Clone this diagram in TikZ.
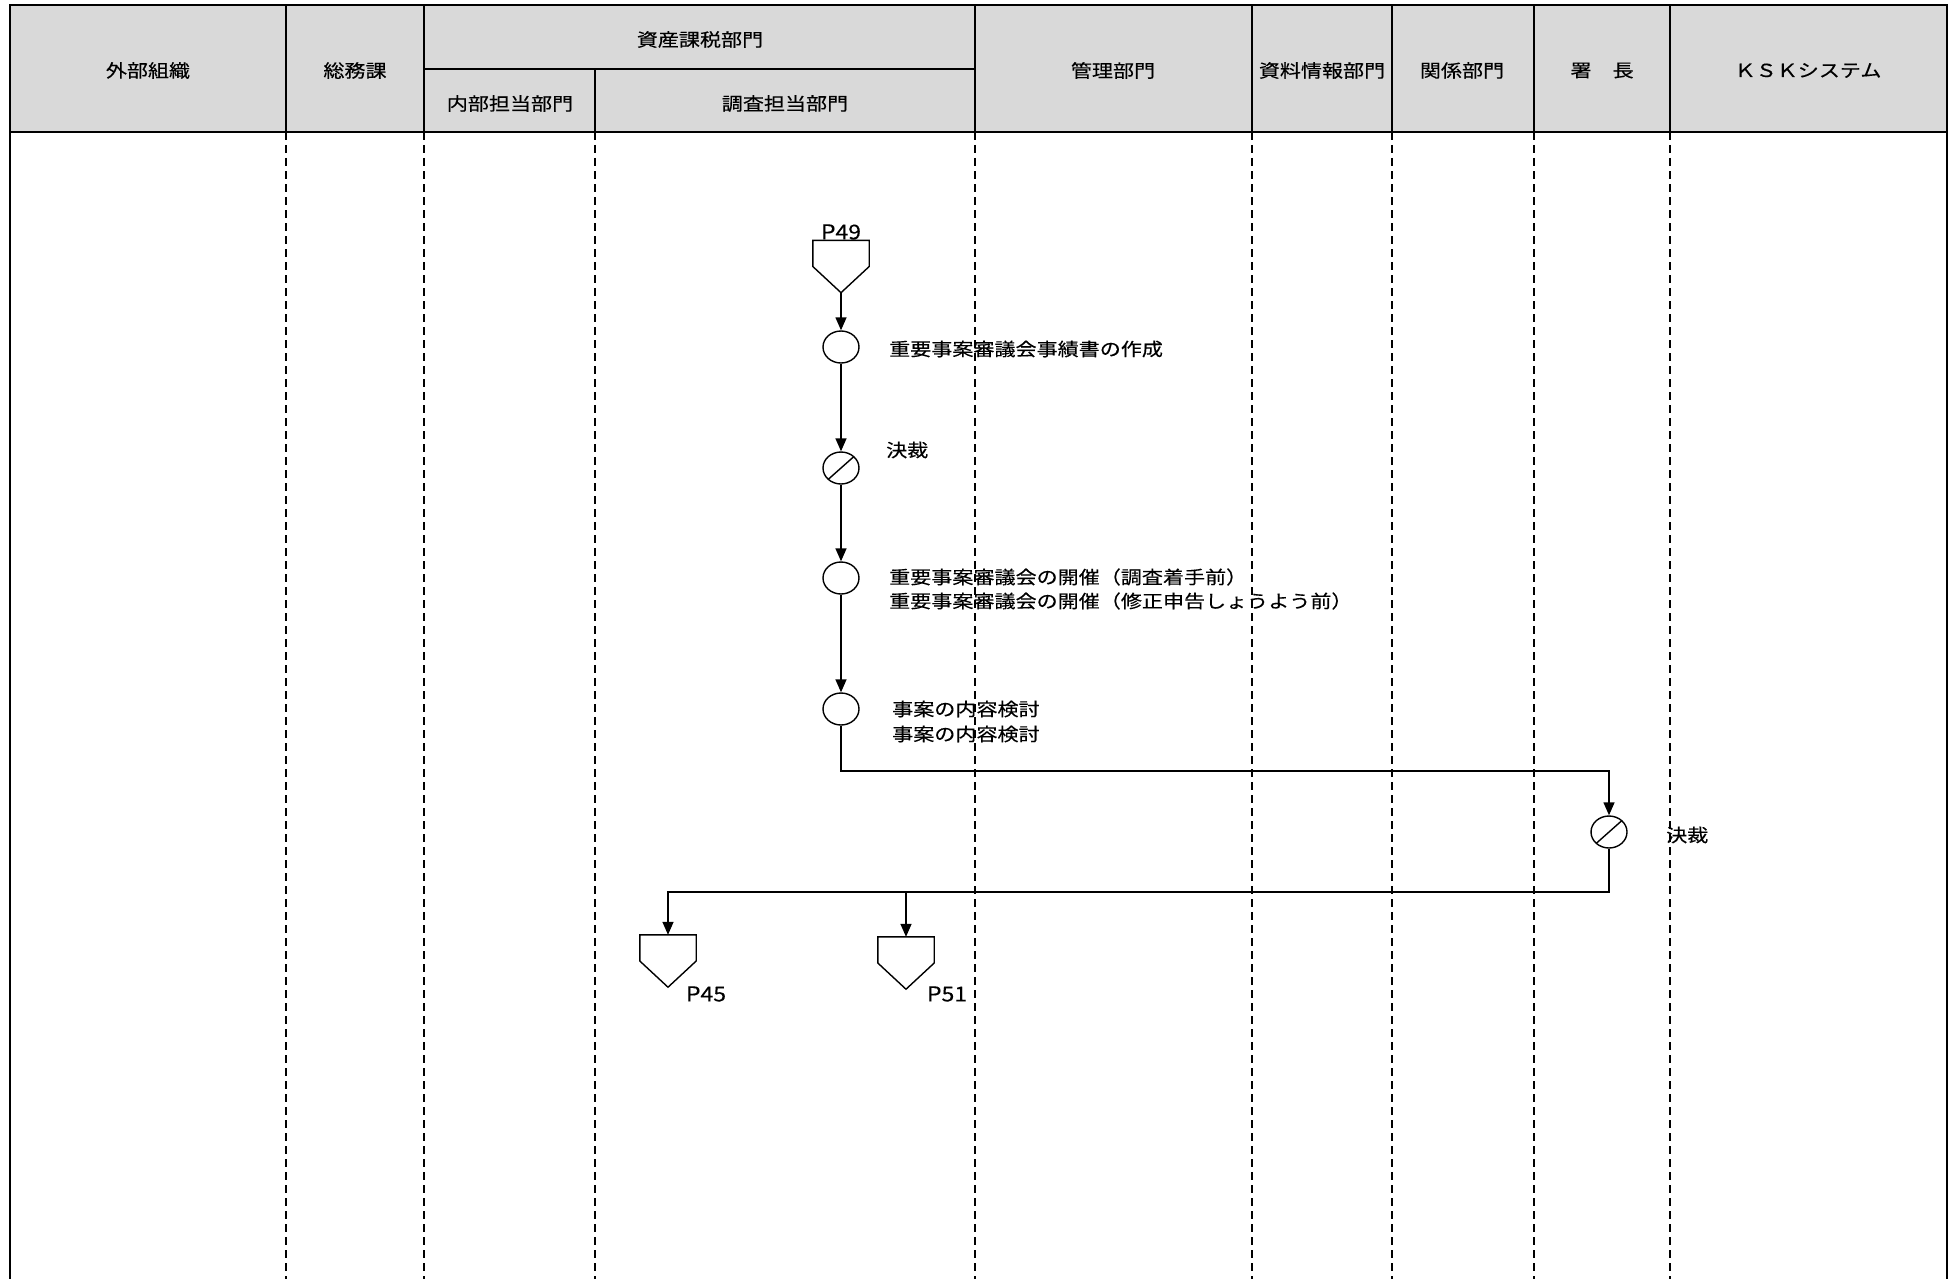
\documentclass[tikz,border=0pt]{standalone}
\usepackage{fontspec}
\usetikzlibrary{arrows.meta,shapes.geometric,calc}
\newfontfamily\jp[FakeStretch=1.17,FakeBold=0.3]{Noto Sans CJK JP}
\newfontfamily\jpl[FakeStretch=1.12,FakeBold=0.2]{Noto Sans CJK JP}
\definecolor{hdr}{HTML}{D9D9D9}
\newcommand\offpageshape[1]{\draw[line width=1.4pt] (#1.north west) -- (#1.north east) -- ($(#1.north east)!0.5!(#1.south east)$) -- (#1.south) -- ($(#1.north west)!0.5!(#1.south west)$) -- cycle;}
\begin{document}
\begin{tikzpicture}[x=1pt,y=-1pt,
  jptext/.style={font=\jp\fontsize{18}{24}\selectfont, inner sep=0pt},
  hdrtext/.style={font=\jp\fontsize{18}{24}\selectfont, inner sep=0pt},
  reftext/.style={font=\jpl\fontsize{20.5}{24}\selectfont, inner sep=0pt},
  lane/.style={line width=1.2pt, dash pattern=on 8pt off 5pt},
  proc/.style={ellipse, draw, fill=white, line width=1.4pt, minimum width=36pt, minimum height=32pt, inner sep=0pt},
  approval/.style={proc, path picture={\draw[line width=1.4pt] (path picture bounding box.south west) -- (path picture bounding box.north east);}},
  offpage/.style={rectangle, minimum width=56pt, minimum height=52pt, inner sep=0pt},
  arr/.style={line width=1.5pt, -{Triangle[length=13pt,width=11pt]}},
  flow/.style={line width=1.5pt}
]
\useasboundingbox (0,0) rectangle (1957,1279);
\fill[white] (0,0) rectangle (1957,1279);
% header
\fill[hdr] (10,5) rectangle (1947,132);
\foreach \x in {286,424,975,1252,1392,1534,1670} \draw[line width=1.6pt] (\x,5) -- (\x,132);
\draw[line width=1.6pt] (424,69) -- (975,69);
\draw[line width=1.6pt] (595,69) -- (595,132);
\draw[line width=2.2pt] (10,5) rectangle (1947,132);
\draw[line width=1.6pt] (10,132) -- (10,1279);
\draw[line width=1.6pt] (1947,132) -- (1947,1279);
\foreach \x in {286,424,595,975,1252,1392,1534,1670} \draw[lane] (\x,132) -- (\x,1279);
\node[hdrtext] (h1) at (148,70.5) {外部組織};
\node[hdrtext] (h2) at (355,70.5) {総務課};
\node[hdrtext] (h3) at (700,39.5) {資産課税部門};
\node[hdrtext] (h4) at (510,103.5) {内部担当部門};
\node[hdrtext] (h5) at (785,103.5) {調査担当部門};
\node[hdrtext] (h6) at (1113,70.5) {管理部門};
\node[hdrtext] (h7) at (1322,70.5) {資料情報部門};
\node[hdrtext] (h8) at (1462,70.5) {関係部門};
\node[hdrtext] (h9) at (1602,70.5) {署　長};
\node[hdrtext] (h10) at (1808,70.5) {ＫＳＫシステム};
% flow
\node[offpage] (p49) at (841,266.5) {};
\offpageshape{p49}
\node[reftext] (l49) at (841,232) {P49};
\node[proc] (c1) at (841,347) {};
\node[jptext, anchor=west] (t1) at (889,349) {重要事案審議会事績書の作成};
\node[approval] (c2) at (841,468) {};
\node[jptext, anchor=west] (t2) at (886,450) {決裁};
\node[proc] (c3) at (841,578) {};
\node[jptext, anchor=west, align=left] (t3) at (889,589) {重要事案審議会の開催（調査着手前）\\重要事案審議会の開催（修正申告しょうよう前）};
\node[proc] (c4) at (841,709) {};
\node[jptext, anchor=west, align=left, font=\jp\fontsize{18}{25}\selectfont] (t4) at (892,721.5) {事案の内容検討\\事案の内容検討};
\node[approval] (c5) at (1609,832) {};
\node[jptext, anchor=west] (t5) at (1666,835) {決裁};
\node[offpage] (p45) at (668,961) {};
\offpageshape{p45}
\node[reftext] (l45) at (706,994) {P45};
\node[offpage] (p51) at (906,963) {};
\offpageshape{p51}
\node[reftext] (l51) at (947,994) {P51};
\coordinate (j1) at (0,771);
\coordinate (j2) at (0,892);
\draw[arr] (p49.south) -- (c1.north);
\draw[arr] (c1.south) -- (c2.north);
\draw[arr] (c2.south) -- (c3.north);
\draw[arr] (c3.south) -- (c4.north);
\draw[arr] (c4.south) -- (c4.south |- j1) -| (c5.north);
\draw[line width=2.4pt] (c5.south) -- (c5.south |- j2) -- (p51.north |- j2);
\draw[arr] (p51.north |- j2) -- (p51.north);
\draw[arr] (p51.north |- j2) -- (p45.north |- j2) -- (p45.north);
\end{tikzpicture}
\end{document}
